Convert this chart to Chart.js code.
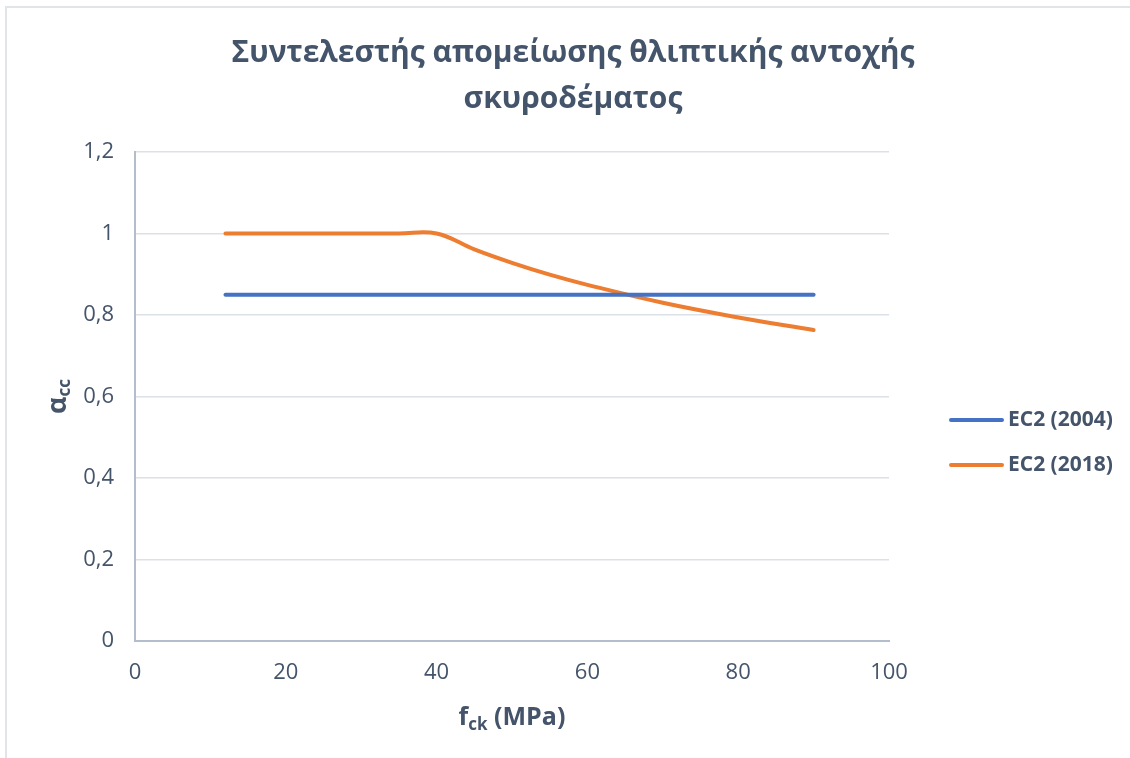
<!DOCTYPE html>
<html>
<head>
<meta charset="utf-8">
<script src="https://cdn.jsdelivr.net/npm/chart.js@4.4.0/dist/chart.umd.min.js"></script>
<style>
  html, body { margin: 0; padding: 0; background: #fff; }
  #wrap { position: relative; width: 1130px; height: 758px; }
</style>
</head>
<body>
<div id="wrap"><canvas id="chartArea" width="1130" height="758"></canvas></div>
<script>
// fck (MPa) των κατηγοριών σκυροδέματος
const fck = [12, 16, 20, 25, 30, 35, 40, 45, 50, 55, 60, 70, 80, 90];
// αcc κατά EC2 (2004)
const alphaEC2004 = [0.85, 0.85, 0.85, 0.85, 0.85, 0.85, 0.85, 0.85, 0.85, 0.85, 0.85, 0.85, 0.85, 0.85];
// αcc κατά EC2 (2018)
const alphaEC2018 = [1, 1, 1, 1, 1, 1, 1, 0.961, 0.928, 0.899, 0.874, 0.830, 0.794, 0.763];

const seriesNames = ['EC2 (2004)', 'EC2 (2018)'];
const seriesColors = ['#4472C4', '#ED7D31'];
const titleLines = ['Συντελεστής απομείωσης θλιπτικής αντοχής', 'σκυροδέματος'];
const xTicks = [0, 20, 40, 60, 80, 100];
const yTicks = [0, 0.2, 0.4, 0.6, 0.8, 1, 1.2];

const textColor = '#44546A';
const fontName = '"Open Sans"';

Chart.defaults.font.family = fontName;
Chart.defaults.color = textColor;

const chartArea = document.getElementById('chartArea');

// πλαίσιο, τίτλος, υπόμνημα και τίτλοι αξόνων
const decorations = {
  id: 'decorations',
  beforeDraw(chart) {
    const ctx = chart.ctx;
    ctx.save();
    ctx.fillStyle = '#ffffff';
    ctx.fillRect(0, 0, chart.width, chart.height);
    ctx.strokeStyle = '#E1E4E9';
    ctx.lineWidth = 2;
    ctx.beginPath();
    ctx.moveTo(6, chart.height);
    ctx.lineTo(6, 7);
    ctx.lineTo(chart.width, 7);
    ctx.stroke();
    ctx.restore();
  },
  afterDraw(chart) {
    const ctx = chart.ctx;
    const area = chart.chartArea;
    ctx.save();
    ctx.fillStyle = textColor;

    // τίτλος
    ctx.font = `bold 30px ${fontName}`;
    ctx.textAlign = 'center';
    ctx.textBaseline = 'alphabetic';
    ctx.fillText(titleLines[0], 573, 62);
    ctx.fillText(titleLines[1], 573, 108);

    // υπόμνημα
    ctx.textAlign = 'left';
    ctx.textBaseline = 'middle';
    ctx.font = `bold 21px ${fontName}`;
    chart.data.datasets.forEach((ds, i) => {
      const y = 420 + i * 45;
      ctx.strokeStyle = ds.borderColor;
      ctx.lineWidth = 4;
      ctx.lineCap = 'round';
      ctx.beginPath();
      ctx.moveTo(951, y);
      ctx.lineTo(1002, y);
      ctx.stroke();
      ctx.fillText(ds.label, 1008, y);
    });

    // τίτλος άξονα x: f_ck (MPa)
    ctx.textBaseline = 'alphabetic';
    const big = `bold 25px ${fontName}`;
    const small = `bold 17px ${fontName}`;
    ctx.font = big;
    const wF = ctx.measureText('f').width;
    const wRest = ctx.measureText(' (MPa)').width;
    ctx.font = small;
    const wSub = ctx.measureText('ck').width;
    let x = (area.left + area.right) / 2 - (wF + wSub + wRest) / 2;
    ctx.font = big;
    ctx.fillText('f', x, 725);
    ctx.font = small;
    ctx.fillText('ck', x + wF, 730);
    ctx.font = big;
    ctx.fillText(' (MPa)', x + wF + wSub, 725);

    // τίτλος άξονα y: α_cc
    ctx.translate(66, (area.top + area.bottom) / 2);
    ctx.rotate(-Math.PI / 2);
    ctx.font = `bold 27px ${fontName}`;
    const wA = ctx.measureText('α').width;
    ctx.font = small;
    const wCC = ctx.measureText('cc').width;
    x = -(wA + wCC) / 2;
    ctx.font = `bold 27px ${fontName}`;
    ctx.fillText('α', x, 0);
    ctx.font = small;
    ctx.fillText('cc', x + wA, 4);
    ctx.restore();
  }
};

const fmt = v => String(+v.toFixed(1)).replace('.', ',');

new Chart(chartArea, {
  type: 'scatter',
  data: {
    datasets: [
      {
        label: seriesNames[0],
        data: fck.map((f, i) => ({ x: f, y: alphaEC2004[i] })),
        showLine: true,
        borderColor: seriesColors[0],
        backgroundColor: seriesColors[0],
        borderWidth: 4,
        borderCapStyle: 'round',
        pointRadius: 0,
        tension: 0.4,
      },
      {
        label: seriesNames[1],
        data: fck.map((f, i) => ({ x: f, y: alphaEC2018[i] })),
        showLine: true,
        borderColor: seriesColors[1],
        backgroundColor: seriesColors[1],
        borderWidth: 4,
        borderCapStyle: 'round',
        pointRadius: 0,
        tension: 0.4,
      },
    ],
  },
  options: {
    responsive: false,
    animation: false,
    devicePixelRatio: 1,
    layout: { padding: { left: 16, top: 152, right: 241, bottom: 0 } },
    plugins: {
      legend: { display: false },
      title: { display: false },
      tooltip: { enabled: false },
    },
    scales: {
      x: {
        type: 'linear',
        min: 0,
        max: 100,
        afterBuildTicks: s => { s.ticks = xTicks.map(v => ({ value: v })); },
        afterFit: s => { s.height = 117; },
        grid: { display: false, drawTicks: false },
        border: { display: true, color: '#B4BDCB', width: 2 },
        ticks: {
          padding: 19,
          color: textColor,
          font: { size: 22 },
          maxRotation: 0,
          callback: v => String(v),
        },
      },
      y: {
        type: 'linear',
        min: 0,
        max: 1.2,
        afterBuildTicks: s => { s.ticks = yTicks.map(v => ({ value: v })); },
        afterFit: s => { s.width = 119; },
        grid: { color: '#DCE0E7', lineWidth: 1.5, drawTicks: false },
        border: { display: true, color: '#B4BDCB', width: 2 },
        ticks: {
          padding: 21,
          color: textColor,
          font: { size: 22 },
          callback: v => fmt(v),
        },
      },
    },
  },
  plugins: [decorations],
});
</script>
</body>
</html>
